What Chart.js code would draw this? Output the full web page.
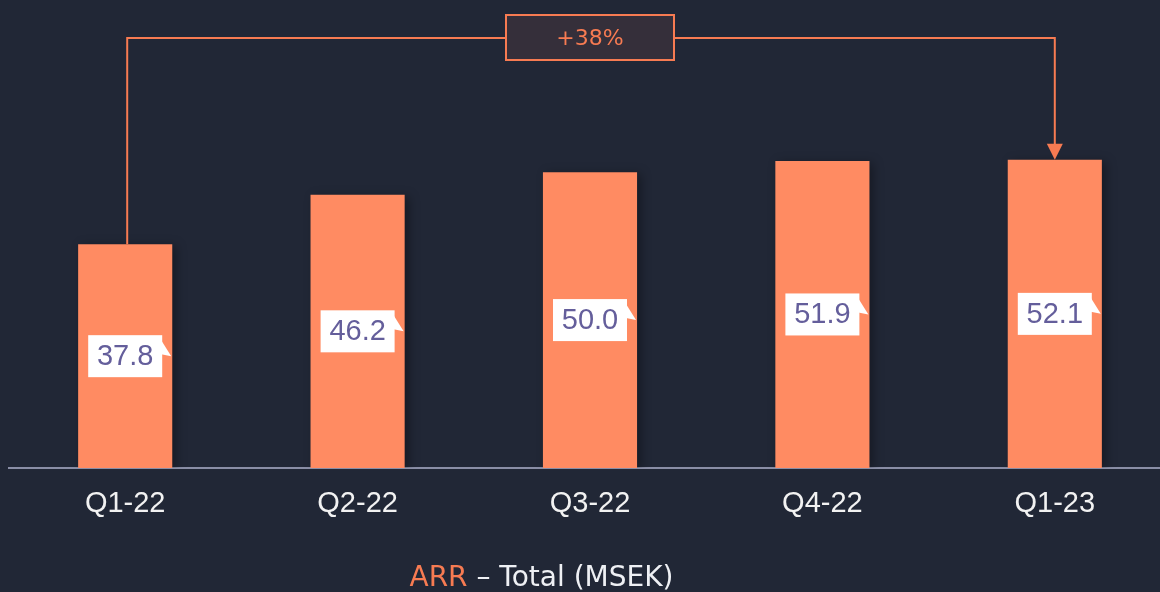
<!DOCTYPE html>
<html>
<head>
<meta charset="utf-8">
<script src="https://cdn.jsdelivr.net/npm/chart.js@4.4.1/dist/chart.umd.min.js"></script>
<style>
  html, body { margin: 0; padding: 0; background: #212736; overflow: hidden; width: 1160px; height: 592px; }
  #wrap { position: absolute; left: 0; top: 0; width: 1172px; height: 592px; }
  #title { position: absolute; left: 0; width: 1083px; top: 557px; text-align: center;
           font-family: "DejaVu Sans", Verdana, sans-serif; font-size: 28px; color: #eef0f4; white-space: nowrap; line-height: 40px; }
  #title .hl { color: #f77b52; }
</style>
</head>
<body>
<div id="wrap"><canvas id="c" width="1172" height="592"></canvas></div>
<div id="title"><span class="hl">ARR</span> – Total (MSEK)</div>
<script>
const categories = ["Q1-22", "Q2-22", "Q3-22", "Q4-22", "Q1-23"];
const arrValues = [37.8, 46.2, 50.0, 51.9, 52.1];
const yMin = 0;
const yMax = 60;

const BAR = '#ff8b62';
const ACCENT = '#f77b52';

const shadowPlugin = {
  id: 'barShadow',
  beforeDatasetDraw(chart) {
    const ctx = chart.ctx;
    ctx.save();
    ctx.shadowColor = 'rgba(0,0,0,0.35)';
    ctx.shadowBlur = 10;
    ctx.shadowOffsetX = 4;
    ctx.shadowOffsetY = 2;
  },
  afterDatasetDraw(chart) {
    chart.ctx.restore();
  }
};

const labelPlugin = {
  id: 'boxLabels',
  afterDatasetsDraw(chart) {
    const ctx = chart.ctx;
    const meta = chart.getDatasetMeta(0);
    ctx.save();
    meta.data.forEach((bar, i) => {
      const x = bar.x;
      const cy = (bar.y + bar.base) / 2;
      const w = 74, h = 42;
      ctx.fillStyle = '#ffffff';
      ctx.fillRect(x - w / 2, cy - h / 2, w, h);
      ctx.beginPath();
      ctx.moveTo(x + w / 2 - 1, cy - 16);
      ctx.lineTo(x + w / 2 + 9, cy);
      ctx.lineTo(x + w / 2 - 1, cy - 2);
      ctx.closePath();
      ctx.fill();
      ctx.fillStyle = '#645e9b';
      ctx.font = '29px "Liberation Sans", Arial, sans-serif';
      ctx.textAlign = 'center';
      ctx.textBaseline = 'middle';
      ctx.fillText(arrValues[i].toFixed(1), x, cy + 1);
    });
    ctx.restore();
  }
};

const growthPlugin = {
  id: 'growth',
  afterDraw(chart) {
    const ctx = chart.ctx;
    const meta = chart.getDatasetMeta(0);
    const first = meta.data[0];
    const last = meta.data[meta.data.length - 1];
    const lineY = 38;
    ctx.save();
    ctx.strokeStyle = ACCENT;
    ctx.lineWidth = 2;
    ctx.beginPath();
    ctx.moveTo(first.x + 2, first.y);
    ctx.lineTo(first.x + 2, lineY);
    ctx.lineTo(last.x, lineY);
    ctx.lineTo(last.x, last.y - 14);
    ctx.stroke();
    ctx.fillStyle = ACCENT;
    ctx.beginPath();
    ctx.moveTo(last.x - 8, last.y - 16);
    ctx.lineTo(last.x + 8, last.y - 16);
    ctx.lineTo(last.x, last.y);
    ctx.closePath();
    ctx.fill();
    const cx = (first.x + last.x) / 2;
    const bw = 168, bh = 45;
    ctx.fillStyle = '#352f3a';
    ctx.fillRect(cx - bw / 2, 15, bw, bh);
    ctx.strokeStyle = ACCENT;
    ctx.lineWidth = 2;
    ctx.strokeRect(cx - bw / 2, 15, bw, bh);
    const growth = Math.round((arrValues[arrValues.length - 1] / arrValues[0] - 1) * 100);
    ctx.fillStyle = ACCENT;
    ctx.font = '22px "DejaVu Sans", Verdana, sans-serif';
    ctx.textAlign = 'center';
    ctx.textBaseline = 'middle';
    ctx.fillText('+' + growth + '%', cx, 39);
    ctx.restore();
  }
};

new Chart(document.getElementById('c'), {
  type: 'bar',
  data: {
    labels: categories,
    datasets: [{
      data: arrValues,
      backgroundColor: BAR,
      borderWidth: 0,
      barPercentage: 0.405,
      categoryPercentage: 1.0
    }]
  },
  options: {
    responsive: false,
    animation: false,
    events: [],
    layout: { padding: { left: 9, right: 1, top: 113, bottom: 69 } },
    plugins: { legend: { display: false }, tooltip: { enabled: false } },
    scales: {
      x: {
        grid: { display: false },
        border: { display: true, color: '#8a8ea6', width: 2 },
        ticks: {
          color: '#f2f2f2',
          font: { family: '"Liberation Sans", Arial, sans-serif', size: 29 },
          padding: 11,
          maxRotation: 0
        },
        afterFit(scale) { scale.height = 55; }
      },
      y: {
        display: false,
        min: yMin,
        max: yMax
      }
    }
  },
  plugins: [shadowPlugin, labelPlugin, growthPlugin]
});
</script>
</body>
</html>
